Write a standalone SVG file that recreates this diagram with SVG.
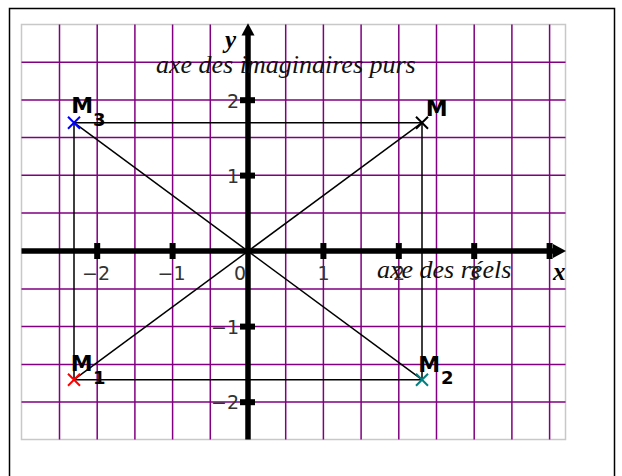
<svg xmlns="http://www.w3.org/2000/svg" width="622" height="476" viewBox="0 0 622 476">
<style>
.grid{stroke:#800080;stroke-width:1.5;fill:none}
.thin{stroke:#000;stroke-width:1.5;fill:none}
.axis{stroke:#000;stroke-width:5.5;fill:none}
.tick{fill:#000}
.tl{font-family:"DejaVu Sans",sans-serif;font-size:19px;fill:#333}
.cap{font-family:"Liberation Serif","Times New Roman",serif;font-style:italic;font-size:26px;fill:#111}
.axl{font-family:"Liberation Serif","Times New Roman",serif;font-style:italic;font-weight:bold;font-size:25px;fill:#000}
.pm{font-family:"DejaVu Sans",sans-serif;font-weight:bold;font-size:22px;fill:#000}
.ps{font-family:"DejaVu Sans",sans-serif;font-weight:bold;font-size:18px;fill:#000}
.cross{stroke-width:2;fill:none}
</style>
<rect x="0" y="0" width="622" height="476" fill="#fff"/>
<rect x="9.5" y="8.5" width="605" height="480" fill="none" stroke="#000" stroke-width="1.5"/>
<rect x="21.5" y="24.5" width="544" height="415" fill="#fff" stroke="#c8c8c8" stroke-width="1.5"/>
<g id="grid" class="grid">
<path d="M59.5 24.5V439.5M97.2 24.5V439.5M134.9 24.5V439.5M172.6 24.5V439.5M210.3 24.5V439.5M285.7 24.5V439.5M323.4 24.5V439.5M361.1 24.5V439.5M398.8 24.5V439.5M436.5 24.5V439.5M474.2 24.5V439.5M511.9 24.5V439.5M549.6 24.5V439.5"/>
<path d="M21.5 62.3H565.5M21.5 100H565.5M21.5 137.6H565.5M21.5 175.3H565.5M21.5 213.1H565.5M21.5 288.9H565.5M21.5 326.6H565.5M21.5 364.4H565.5M21.5 402.1H565.5"/>
</g>
<g id="axes">
<path class="axis" d="M21.5 251H555"/>
<path class="axis" d="M248 439.5V34"/>
<path d="M553 244L566 251L553 258Z" fill="#000"/>
<path d="M241.5 35.5L248 23.3L254.5 35.5Z" fill="#000"/>
<rect class="tick" x="94.2" y="243" width="6" height="16"/>
<rect class="tick" x="169.6" y="243" width="6" height="16"/>
<rect class="tick" x="320.4" y="243" width="6" height="16"/>
<rect class="tick" x="395.8" y="243" width="6" height="16"/>
<rect class="tick" x="471.2" y="243" width="6" height="16"/>
<rect class="tick" x="546.6" y="243" width="6" height="16"/>
<rect class="tick" x="240" y="97.2" width="15" height="6"/>
<rect class="tick" x="240" y="172.6" width="15" height="6"/>
<rect class="tick" x="240" y="323.6" width="15" height="6"/>
<rect class="tick" x="240" y="399.2" width="15" height="6"/>
<text class="tl" x="96" y="279.7" text-anchor="middle">−2</text>
<text class="tl" x="171.5" y="279.7" text-anchor="middle">−1</text>
<text class="tl" x="246" y="279.7" text-anchor="end">0</text>
<text class="tl" x="323.5" y="279.7" text-anchor="middle">1</text>
<text class="tl" x="399" y="279.7" text-anchor="middle">2</text>
<text class="tl" x="474.5" y="279.7" text-anchor="middle">3</text>
<text class="tl" x="239" y="107.5" text-anchor="end">2</text>
<text class="tl" x="239" y="182.8" text-anchor="end">1</text>
<text class="tl" x="239" y="333.6" text-anchor="end">−1</text>
<text class="tl" x="239" y="408.7" text-anchor="end">−2</text>
<text class="axl" x="225" y="47.5">y</text>
<text class="axl" x="553" y="280">x</text>
<text class="cap" x="156" y="73.3">axe des imaginaires purs</text>
<text class="cap" x="377" y="278.3">axe des réels</text>
</g>
<g id="connectors" class="thin">
<path d="M74 122.7H422V379.7H74Z"/>
<path d="M74 122.7L422 379.7"/>
<path d="M74 379.7L422 122.7"/>
</g>
<g id="M">
<path class="cross" stroke="#000" d="M416 116.7L428 128.7M416 128.7L428 116.7"/>
<text class="pm" x="425.7" y="116">M</text>
</g>
<g id="M3">
<path class="cross" stroke="#0000ff" d="M68 116.7L80 128.7M68 128.7L80 116.7"/>
<text class="pm" x="71.3" y="113.3">M</text>
<text class="ps" x="93" y="126">3</text>
</g>
<g id="M1">
<path class="cross" stroke="#ff0000" d="M68 373.7L80 385.7M68 385.7L80 373.7"/>
<text class="pm" x="70.7" y="371.3">M</text>
<text class="ps" x="93" y="383.7">1</text>
</g>
<g id="M2">
<path class="cross" stroke="#008080" d="M416 373.7L428 385.7M416 385.7L428 373.7"/>
<text class="pm" x="418.3" y="372">M</text>
<text class="ps" x="441" y="383.7">2</text>
</g>
</svg>
